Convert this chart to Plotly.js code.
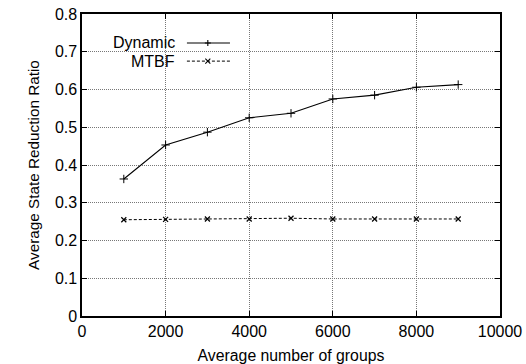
<!DOCTYPE html>
<html><head><meta charset="utf-8">
<script src="https://cdn.plot.ly/plotly-3.0.1.min.js"></script>
<style>html,body{margin:0;padding:0;background:#fff;}#chart{width:526px;height:364px;}</style>
</head><body><div id="chart"></div>
<script>
var groups = [1000, 2000, 3000, 4000, 5000, 6000, 7000, 8000, 9000];
var dynamicRatio = [0.363, 0.453, 0.487, 0.525, 0.537, 0.575, 0.585, 0.606, 0.613];
var mtbfRatio = [0.255, 0.256, 0.257, 0.257, 0.259, 0.257, 0.257, 0.257, 0.257];
var seriesNames = ['Dynamic', 'MTBF'];
var xTicks = [0, 2000, 4000, 6000, 8000, 10000];
var yTicks = [0, 0.1, 0.2, 0.3, 0.4, 0.5, 0.6, 0.7, 0.8];

var fam = 'Liberation Sans, Arial, sans-serif';
var font = {family: fam, size: 16, color: '#000'};
var traces = [
  {x: groups, y: dynamicRatio, name: seriesNames[0], mode: 'lines+markers',
   line: {color: '#000', width: 1.1},
   marker: {symbol: 'cross-thin-open', size: 6, color: '#000', line: {color: '#000', width: 1}}},
  {x: groups, y: mtbfRatio, name: seriesNames[1], mode: 'lines+markers',
   line: {color: '#000', width: 1, dash: '3px,2px'},
   marker: {symbol: 'x-thin-open', size: 5, color: '#000', line: {color: '#000', width: 1.2}}}
];
var axisCommon = {
  showline: true, linecolor: '#000', linewidth: 1.6, mirror: 'ticks',
  ticks: 'inside', ticklen: 5, tickcolor: '#000', tickwidth: 1,
  showgrid: true, gridcolor: '#777', gridwidth: 1, griddash: '1px,1px',
  zeroline: false, tickfont: font
};
var layout = {
  width: 526, height: 364,
  margin: {l: 82, r: 26, t: 14, b: 48},
  paper_bgcolor: '#fff', plot_bgcolor: '#fff',
  showlegend: false,
  font: font,
  xaxis: Object.assign({}, axisCommon, {range: [0, 10000], tickvals: xTicks, ticktext: xTicks.map(String),
    title: {text: 'Average number of groups', font: {family: fam, size: 15.8, color: '#000'}, standoff: 12}}),
  yaxis: Object.assign({}, axisCommon, {range: [0, 0.8], tickvals: yTicks, ticktext: yTicks.map(function(v){return v===0?'0':v.toFixed(1);}),
    title: {text: 'Average State Reduction Ratio', font: {family: fam, size: 15.3, color: '#000'}, standoff: 11}}),
  annotations: [
    {xref: 'paper', yref: 'paper', x: 0.227, y: 0.904, xanchor: 'right', yanchor: 'middle', text: seriesNames[0], showarrow: false, font: font},
    {xref: 'paper', yref: 'paper', x: 0.227, y: 0.844, xanchor: 'right', yanchor: 'middle', text: seriesNames[1], showarrow: false, font: font}
  ],
  shapes: [
    {type: 'line', xref: 'paper', yref: 'paper', x0: 0.251, x1: 0.354, y0: 0.904, y1: 0.904, line: {color: '#000', width: 1.1}},
    {type: 'line', xref: 'paper', yref: 'paper', x0: 0.251, x1: 0.354, y0: 0.844, y1: 0.844, line: {color: '#000', width: 1, dash: '3px,2px'}}
  ]
};
Plotly.newPlot('chart', traces, layout, {staticPlot: true}).then(function(){
  var gd = document.getElementById('chart');
  var fl = gd._fullLayout;
  var xs = fl.xaxis, ys = fl.yaxis;
  var px = xs._offset + 0.301 * xs._length;
  var svg = gd.querySelector('.main-svg');
  var ns = 'http://www.w3.org/2000/svg';
  [[0.904, 'M-3,0H3M0,-3V3'], [0.844, 'M-2.5,-2.5L2.5,2.5M-2.5,2.5L2.5,-2.5']].forEach(function(d){
    var py = ys._offset + (1 - d[0]) * ys._length;
    var p = document.createElementNS(ns, 'path');
    p.setAttribute('d', d[1]);
    p.setAttribute('transform', 'translate(' + px + ',' + py + ')');
    p.setAttribute('stroke', '#000'); p.setAttribute('stroke-width', '1.1'); p.setAttribute('fill', 'none');
    svg.appendChild(p);
  });
});
</script></body></html>
